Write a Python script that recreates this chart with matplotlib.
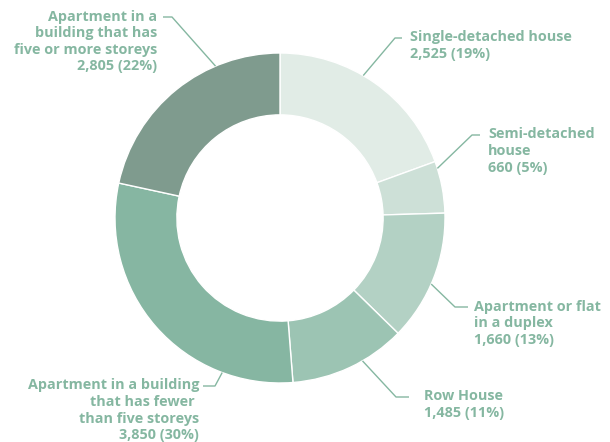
import matplotlib
matplotlib.use("Agg")
import matplotlib.pyplot as plt
import numpy as np

# ---- data ----
categories = [
    "Single-detached house",
    "Semi-detached\nhouse",
    "Apartment or flat\nin a duplex",
    "Row House",
    "Apartment in a building\nthat has fewer \nthan five storeys",
    "Apartment in a\nbuilding that has\nfive or more storeys",
]
values = [2525, 660, 1660, 1485, 3850, 2805]
colors = ["#e1ece6", "#cde0d7", "#b3d1c4", "#9cc4b3", "#86b6a2", "#7f9b8e"]

# ---- layout (pixel positions of the label elbows, anchor angles) ----
W, H = 610, 442
CX, CY, R = 280, 218, 165
anchor_angles = [59.7, 17.5, -23.6, -60.0, -110.5, 113.0]
elbows = [(395, 38), (472, 135), (455, 307), (396, 397), (215, 386), (172, 17)]
ends = [(402, 38), (480, 135), (468, 307), (409, 397), (203, 386), (163, 17)]
text_x = [410, 488, 474, 424, 199, 157]
ha_list = ["left", "left", "left", "left", "right", "right"]

txt_color = "#85b7a1"

def px(x, y):
    return (x - CX) / R, (CY - y) / R

fig = plt.figure(figsize=(W / 100, H / 100), dpi=100)
ax = fig.add_axes([0, 0, 1, 1])

ax.pie(values, colors=colors, startangle=90, counterclock=False, radius=1,
       wedgeprops=dict(width=0.375, edgecolor="white", linewidth=1))

ax.set_xlim(-CX / R, (W - CX) / R)
ax.set_ylim(-(H - CY) / R, CY / R)
ax.set_aspect("equal")
ax.axis("off")

total = sum(values)
for i, (cat, v) in enumerate(zip(categories, values)):
    a = np.deg2rad(anchor_angles[i])
    ax0, ay0 = np.cos(a), np.sin(a)
    ex, ey = px(*elbows[i])
    fx, fy = px(*ends[i])
    ax.plot([ax0, ex, fx], [ay0, ey, fy], color=txt_color, lw=1.0,
            solid_capstyle="butt")
    pct = round(v / total * 100)
    label = f"{cat}\n{v:,} ({pct}%)"
    tx, ty = px(text_x[i], elbows[i][1] - 7.5)
    ax.text(tx, ty, label, ha=ha_list[i], va="top",
            multialignment=ha_list[i], fontsize=10.4, fontweight="bold",
            family=["Open Sans", "DejaVu Sans"], color=txt_color,
            linespacing=1.24)

fig.savefig("out.png", dpi=100)
